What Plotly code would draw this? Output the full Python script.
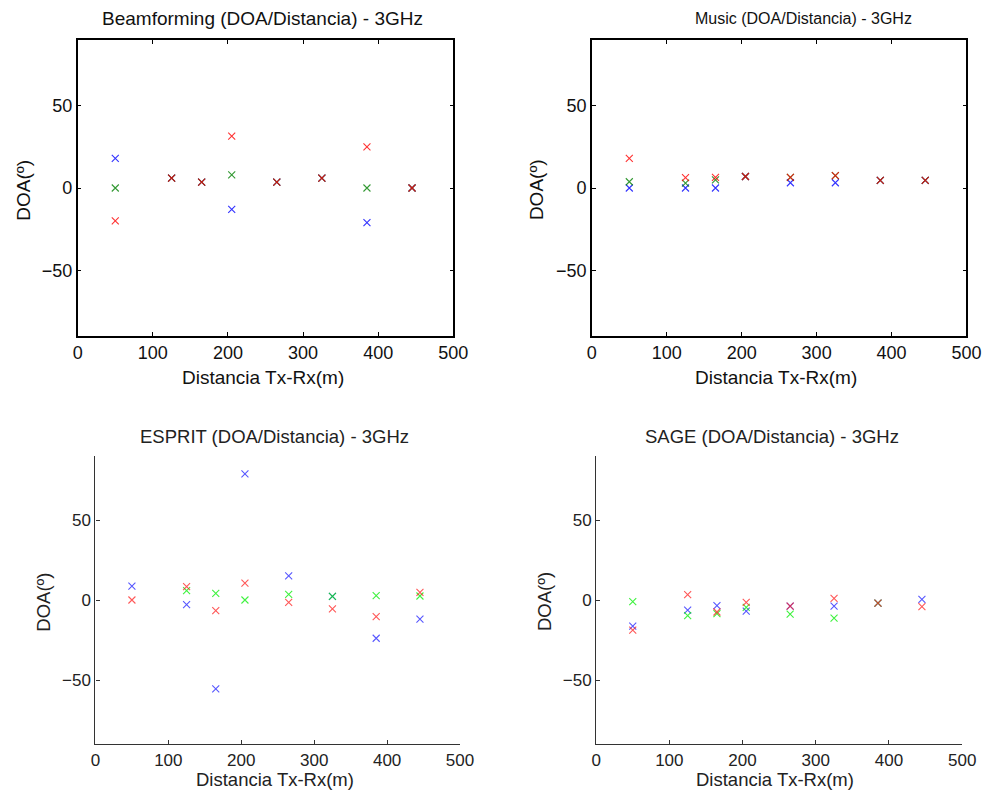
import plotly.graph_objects as go

# Calibration between the photographed picture and page CSS pixels:
# picture_x ~= A + K * css_x, picture_y ~= css_y ; body margin is 8px.
A, K, OFF = 5.5, 0.979, 8
W, H = 991, 801 - 2 * OFF

# Distances (m)
dist = [50, 125, 165, 205, 265, 325, 385, 445]

# Beamforming DOA (deg)
bf_blue = [18, 6, 3.6, -13, 3.6, 6, -21, 0]
bf_green = [0, 6, 3.6, 8, 3.6, 6, 0, 0]
bf_red = [-20, 6, 3.6, 31.6, 3.6, 6, 25, 0]

# Music DOA
mu_blue = [0, 0, 0, 7, 3.2, 3.2, 4.6, 4.6]
mu_green = [3.8, 3.0, 4.9, 7, 6.5, 7.5, 4.6, 4.6]
mu_red = [18, 6.3, 6.5, 7, 6.5, 7.5, 4.6, 4.6]

# ESPRIT DOA
es_blue = [8.7, -2.9, -55.6, 78.8, 15.1, 2.3, -23.9, -12]
es_green = [None, 5.8, 4.1, 0, 3.5, 2.3, 2.7, 2.5]
es_red = [0, 8.3, -6.6, 10.6, -1.5, -5.6, -10.4, 4.8]

# SAGE DOA
sa_blue = [-16.3, -6.3, -3.5, -6.9, -3.8, -3.8, -2, 0.4]
sa_green = [-1, -9.8, -8.5, -4.6, -8.8, -11.3, -2, None]
sa_red = [-18.8, 3.3, -7.5, -1.5, -3.8, 1, -2, -4.2]

xticks = [0, 100, 200, 300, 400, 500]
yticks = [-50, 0, 50]

titles = ["Beamforming (DOA/Distancia) - 3GHz", "Music (DOA/Distancia) - 3GHz",
          "ESPRIT (DOA/Distancia) - 3GHz", "SAGE (DOA/Distancia) - 3GHz"]
xlabel = "Distancia Tx-Rx(m)"
ylabel = "DOA(º)"


def px(x):
    return ((x - A) / K - OFF) / W


def py(y):
    return 1 - (y - OFF) / H


# panel boxes in picture pixels: left, right, top, bottom
boxes = [
    (78, 453.3, 40, 336),
    (591.7, 966, 40, 336),
    (95.7, 460, 456, 744),
    (596, 961.7, 456, 744),
]

fig = go.Figure()

top_colors = ["#0000ff", "#008000", "#ff0000"]
bot_colors = ["#2020ff", "#00ee00", "#ff2020"]

data = [
    (bf_blue, bf_green, bf_red),
    (mu_blue, mu_green, mu_red),
    (es_blue, es_green, es_red),
    (sa_blue, sa_green, sa_red),
]

FONT = "Liberation Sans, Arial, sans-serif"

layout = {}
for i, (box, series) in enumerate(zip(boxes, data)):
    l, r, t, b = box
    idx = "" if i == 0 else str(i + 1)
    top = i < 2
    cols = top_colors if top else bot_colors
    op = 0.8 if top else 0.75
    for s, c in zip(series, cols):
        fig.add_trace(go.Scatter(
            x=dist, y=s, mode="markers",
            marker=dict(symbol="x-thin", size=7, color=c, opacity=op,
                        line=dict(width=1.1, color=c)),
            xaxis="x" + idx, yaxis="y" + idx, showlegend=False,
            hoverinfo="x+y"))
    lcol = "#000000" if top else "#333333"
    tcol = "#111111" if top else "#222222"
    tsize = 18 if top else 17
    layout["xaxis" + idx] = dict(
        domain=[px(l), px(r)], anchor="y" + idx, range=[0, 500],
        tickvals=xticks, ticks="inside", ticklen=4, tickcolor=lcol,
        showline=True, linecolor=lcol, linewidth=1.5 if top else 1.3,
        mirror="ticks" if top else False,
        showgrid=False, zeroline=False,
        tickfont=dict(family=FONT, size=tsize, color=tcol))
    layout["yaxis" + idx] = dict(
        domain=[py(b), py(t)], anchor="x" + idx, range=[-90, 90],
        tickvals=yticks, ticks="inside", ticklen=4, tickcolor=lcol,
        showline=True, linecolor=lcol, linewidth=1.5 if top else 1.3,
        mirror="ticks" if top else False,
        showgrid=False, zeroline=False,
        tickfont=dict(family=FONT, size=tsize, color=tcol))

fig.update_layout(**layout)

ann = []
font_top = dict(family=FONT, size=19, color="#111111")
font_mus = dict(family=FONT, size=16, color="#111111")
font_bot = dict(family=FONT, size=18.5, color="#222222")
# titles
for (x, y, txt, f) in [
    (263, 19, titles[0], font_top),
    (803, 19, titles[1], font_mus),
    (275, 436, titles[2], font_bot),
    (772, 436, titles[3], font_bot),
]:
    ann.append(dict(x=px(x), y=py(y), xref="paper", yref="paper", text=txt,
                    showarrow=False, font=f, xanchor="center", yanchor="middle"))
# x labels
for (x, y, f) in [(263, 377, font_top), (776, 377, font_top),
                  (275, 779, font_bot), (775, 779, font_bot)]:
    ann.append(dict(x=px(x), y=py(y), xref="paper", yref="paper", text=xlabel,
                    showarrow=False, font=f, xanchor="center", yanchor="middle"))
# y labels
for (x, y, f) in [(24, 190, font_top), (537, 190, font_top),
                  (43, 602, font_bot), (544, 602, font_bot)]:
    ann.append(dict(x=px(x), y=py(y), xref="paper", yref="paper", text=ylabel,
                    showarrow=False, font=f, textangle=-90,
                    xanchor="center", yanchor="middle"))

fig.update_layout(
    width=W, height=H, margin=dict(l=0, r=0, t=0, b=0),
    paper_bgcolor="white", plot_bgcolor="white",
    annotations=ann,
)

fig.write_html("out.html", config={"displayModeBar": False})
